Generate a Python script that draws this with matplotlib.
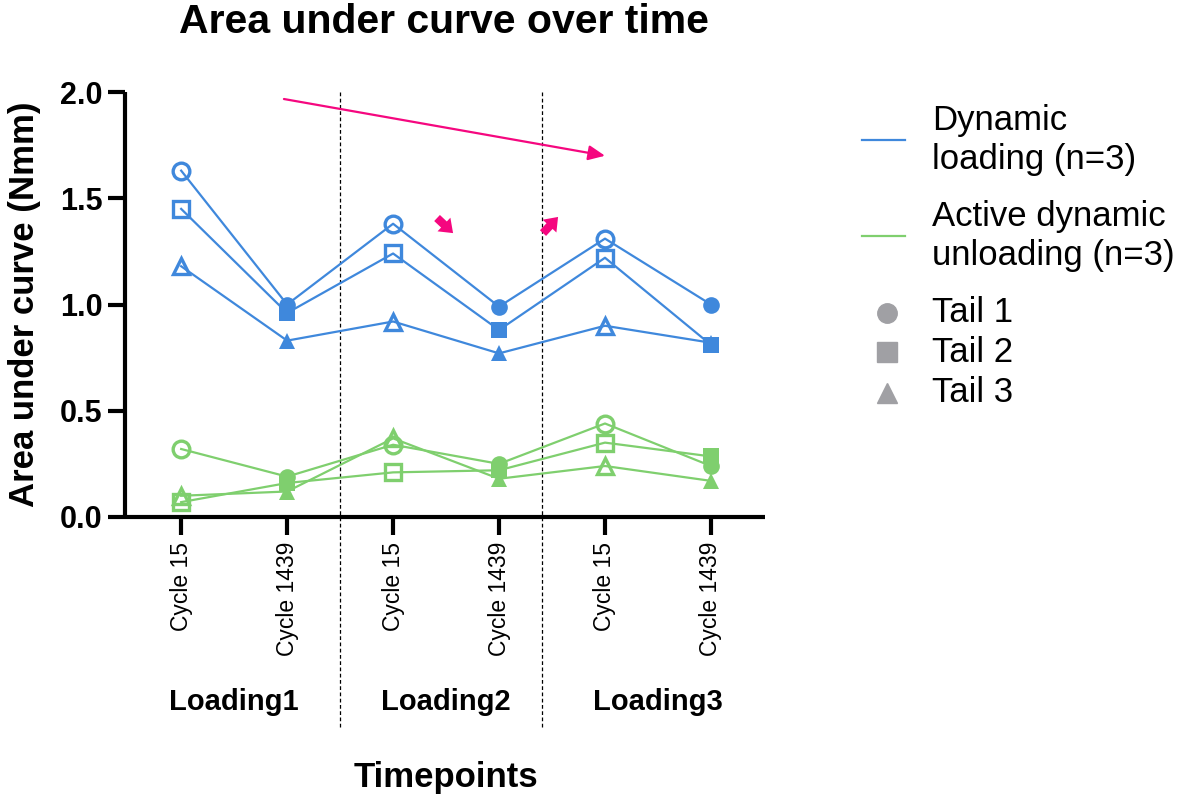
import matplotlib
matplotlib.use("Agg")
import matplotlib.pyplot as plt
from matplotlib.lines import Line2D

plt.rcParams['font.family'] = ['Liberation Sans', 'DejaVu Sans']

BLUE = '#3f88dc'
GREEN = '#7fcf6e'
PINK = '#f5077f'
GREY = '#a0a0a4'

timepoints = ['Cycle 15', 'Cycle 1439', 'Cycle 15', 'Cycle 1439', 'Cycle 15', 'Cycle 1439']
groups = ['Loading1', 'Loading2', 'Loading3']

# dynamic loading, one list per tail
dyn_tail1 = [1.63, 1.00, 1.38, 0.99, 1.31, 1.00]
dyn_tail2 = [1.45, 0.96, 1.24, 0.88, 1.22, 0.81]
dyn_tail3 = [1.18, 0.83, 0.92, 0.77, 0.90, 0.82]

# active dynamic unloading
act_tail1 = [0.32, 0.19, 0.34, 0.25, 0.44, 0.24]
act_tail2 = [0.07, 0.16, 0.21, 0.22, 0.35, 0.285]
act_tail3 = [0.10, 0.12, 0.37, 0.18, 0.24, 0.17]

markers = ['o', 's', '^']

fig = plt.figure(figsize=(11.88, 7.98), dpi=100)
ax = fig.add_axes([125/1188, 1 - 517/798, 640/1188, 425/798])

x = list(range(len(timepoints)))
for color, tails in [(BLUE, [dyn_tail1, dyn_tail2, dyn_tail3]),
                     (GREEN, [act_tail1, act_tail2, act_tail3])]:
    for vals, m in zip(tails, markers):
        ax.plot(x, vals, color=color, lw=1.6, zorder=2)
        # cycle 15 = open marker, cycle 1439 = filled marker
        ax.plot(x[0::2], vals[0::2], ls='none', marker=m, ms=12, mfc='none',
                mec=color, mew=2.4, zorder=3)
        ax.plot(x[1::2], vals[1::2], ls='none', marker=m, ms=12, mfc=color,
                mec=color, mew=0, zorder=3)

ax.set_xlim(-0.53, 5.51)
ax.set_ylim(0, 2.0)
ax.set_yticks([0, 0.5, 1.0, 1.5, 2.0])
ax.set_yticklabels(['0.0', '0.5', '1.0', '1.5', '2.0'], fontsize=22, fontweight='bold')
ax.set_xticks(x)
ax.set_xticklabels(timepoints, rotation=90, fontsize=16.5)
ax.tick_params(axis='y', length=12, width=3, pad=4)
ax.tick_params(axis='x', length=13, width=3, pad=5)
for s in ['top', 'right']:
    ax.spines[s].set_visible(False)
for s in ['left', 'bottom']:
    ax.spines[s].set_linewidth(3)
    ax.spines[s].set_capstyle('butt')

# dashed separators between loading blocks
for xv in [1.5, 3.405]:
    ax.plot([xv, xv], [-0.99, 2.0], color='black', ls=(0, (3, 2)), lw=0.9,
            clip_on=False, zorder=1)

for i, g in enumerate(groups):
    ax.text(2 * i + 0.5, -0.87, g, ha='center', va='center', fontsize=21,
            fontweight='bold')

ax.set_ylabel('Area under curve (Nmm)', fontsize=25, fontweight='bold', labelpad=14)
fig.text(446/1188, 1 - 778/798, 'Timepoints', ha='center', va='center',
         fontsize=25, fontweight='bold')
fig.text(444/1188, 1 - 22/798, 'Area under curve over time', ha='center',
         va='center', fontsize=29.5, fontweight='bold')

# pink arrows
ax.annotate('', xy=(4.0, 1.70), xytext=(0.97, 1.967),
            arrowprops=dict(arrowstyle='-|>,head_length=1.0,head_width=0.45',
                            color=PINK, lw=1.6, shrinkA=0, shrinkB=0),
            annotation_clip=False)
small = dict(arrowstyle='simple,head_length=0.6,head_width=0.9,tail_width=0.4',
             color=PINK, lw=0, mutation_scale=15, shrinkA=0, shrinkB=0)
ax.annotate('', xy=(2.566, 1.336), xytext=(2.415, 1.407), arrowprops=small)
ax.annotate('', xy=(3.557, 1.412), xytext=(3.415, 1.336), arrowprops=small)

# legend
def fy(py):
    return 1 - py / 798

fig.add_artist(Line2D([862/1188, 905/1188], [fy(140), fy(140)], color=BLUE, lw=1.6))
fig.text(932/1188, fy(140), 'Dynamic\nloading (n=3)', fontsize=25, va='center',
         linespacing=1.2)
fig.add_artist(Line2D([862/1188, 905/1188], [fy(236), fy(236)], color=GREEN, lw=1.6))
fig.text(932/1188, fy(236), 'Active dynamic\nunloading (n=3)', fontsize=25,
         va='center', linespacing=1.2)
for py, m, lab in [(313, 'o', 'Tail 1'), (352, 's', 'Tail 2'), (393, '^', 'Tail 3')]:
    fig.add_artist(Line2D([887/1188], [fy(py)], marker=m, ms=14, color=GREY, ls='none'))
    fig.text(932/1188, fy(py), lab, fontsize=25, va='center')

fig.savefig('out.png', dpi=100)
